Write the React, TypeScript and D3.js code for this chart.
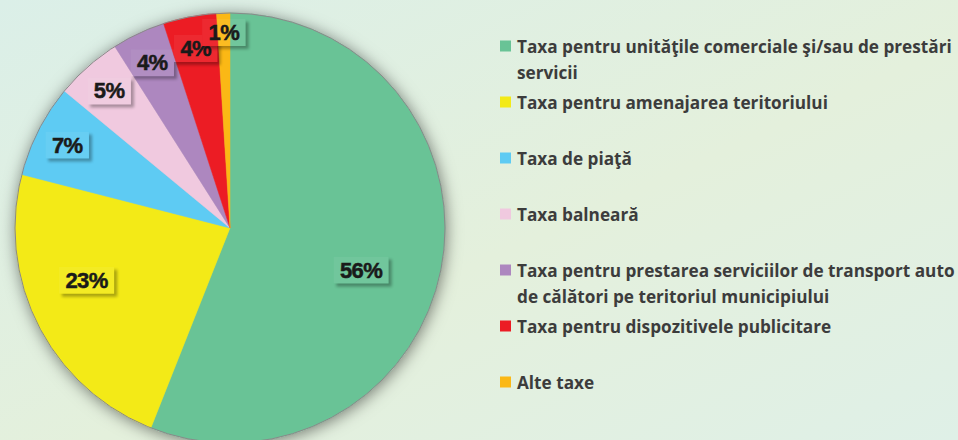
import React, { useRef, useEffect } from "react";
import * as d3 from "d3";

const categories = [
  "Taxa pentru unităţile comerciale şi/sau de prestări servicii",
  "Taxa pentru amenajarea teritoriului",
  "Taxa de piaţă",
  "Taxa balneară",
  "Taxa pentru prestarea serviciilor de transport auto de călători pe teritoriul municipiului",
  "Taxa pentru dispozitivele publicitare",
  "Alte taxe",
];

// legend lines, wrapped as in the picture
const legendLines = [
  ["Taxa pentru unităţile comerciale şi/sau de prestări", "servicii"],
  ["Taxa pentru amenajarea teritoriului"],
  ["Taxa de piaţă"],
  ["Taxa balneară"],
  ["Taxa pentru prestarea serviciilor de transport auto", "de călători pe teritoriul municipiului"],
  ["Taxa pentru dispozitivele publicitare"],
  ["Alte taxe"],
];

const shares = [56, 23, 7, 5, 4, 4, 1];

const colors = ["#69c396", "#f3ea17", "#5ecbf3", "#f0c9df", "#ad87bf", "#ec1c24", "#fbb815"];

const W = 958;
const H = 440;

const App = () => {
  const svgRef = useRef<SVGSVGElement>(null);

  useEffect(() => {
    const svg = d3.select(svgRef.current).attr("width", W).attr("height", H);
    svg.selectAll("*").remove();

    const defs = svg.append("defs");
    const bg = defs
      .append("linearGradient")
      .attr("id", "bg")
      .attr("x1", "0")
      .attr("y1", "0")
      .attr("x2", "1")
      .attr("y2", "1");
    bg.append("stop").attr("offset", "0%").attr("stop-color", "#dbefe8");
    bg.append("stop").attr("offset", "55%").attr("stop-color", "#e4f0dc");
    bg.append("stop").attr("offset", "100%").attr("stop-color", "#dff0e7");

    const pieShadow = defs.append("filter").attr("id", "pieShadow")
      .attr("x", "-20%").attr("y", "-20%").attr("width", "140%").attr("height", "140%");
    pieShadow.append("feDropShadow")
      .attr("dx", 1).attr("dy", 2).attr("stdDeviation", 8)
      .attr("flood-color", "#000").attr("flood-opacity", 0.5);

    const boxBlur = defs.append("filter").attr("id", "boxBlur")
      .attr("x", "-30%").attr("y", "-30%").attr("width", "160%").attr("height", "160%");
    boxBlur.append("feGaussianBlur").attr("stdDeviation", 1.6);

    svg.append("rect").attr("width", W).attr("height", H).attr("fill", "url(#bg)");

    const cx = 230;
    const cy = 228;
    const r = 215;

    const pie = d3.pie<number>().sort(null).value((d) => d)(shares);
    const arc = d3.arc<d3.PieArcDatum<number>>().innerRadius(0).outerRadius(r);

    const g = svg.append("g").attr("transform", `translate(${cx},${cy})`);

    const drawSlices = (parent: any) => {
      parent
        .selectAll("path")
        .data(pie)
        .join("path")
        .attr("d", arc)
        .attr("fill", (d: any, i: number) => colors[i])
        .attr("stroke", (d: any, i: number) => colors[i])
        .attr("stroke-width", 0.5);
    };

    g.append("circle").attr("r", r).attr("fill", "#bbb").attr("filter", "url(#pieShadow)");
    drawSlices(g.append("g"));
    g.append("circle").attr("r", r).attr("fill", "none").attr("stroke", "#8a8a8a").attr("stroke-width", 1);

    // data labels: box shows the pie beneath, with a soft shadow
    const labelFont = "'Liberation Sans', Arial, sans-serif";
    const labels = g.append("g");
    pie.forEach((d, i) => {
      const share = shares[i];
      const k = share > 50 ? 0.64 : share > 20 ? 0.71 : share > 1 ? 0.85 : 0.91;
      // big slices: label sits a bit further round, clockwise
      const shift = share > 20 ? (7 * Math.PI) / 180 : 0;
      const mid = (d.startAngle + d.endAngle) / 2 + shift;
      const lx = Math.sin(mid) * r * k;
      const ly = -Math.cos(mid) * r * k;
      const txt = `${share}%`;

      const boxG = labels.append("g");
      const t = labels.append("text")
        .attr("x", lx).attr("y", ly)
        .attr("text-anchor", "middle")
        .attr("dominant-baseline", "central")
        .attr("font-family", labelFont)
        .attr("font-weight", "bold")
        .attr("font-size", 22)
        .attr("letter-spacing", -0.6)
        .attr("fill", "#1a1a1a")
        .attr("stroke", "#1a1a1a")
        .attr("stroke-width", 0.5)
        .text(txt);
      const tw = (t.node() as SVGTextElement).getComputedTextLength();
      const bw = tw + 13;
      const bh = 27;
      const bx = lx - bw / 2;
      const by = ly - bh / 2;

      boxG.append("rect")
        .attr("x", bx + 3).attr("y", by + 3)
        .attr("width", bw).attr("height", bh)
        .attr("fill", "#000").attr("opacity", 0.3)
        .attr("filter", "url(#boxBlur)");

      const clipId = `box${i}`;
      defs.append("clipPath").attr("id", clipId)
        .append("rect").attr("x", bx).attr("y", by).attr("width", bw).attr("height", bh);
      const inner = boxG.append("g").attr("clip-path", `url(#${clipId})`);
      drawSlices(inner);
      inner.append("rect").attr("x", bx).attr("y", by).attr("width", bw).attr("height", bh)
        .attr("fill", "#fff").attr("opacity", 0.06);
    });

    // legend
    const legend = svg.append("g").attr("transform", "translate(500,46)");
    const itemStep = 56;
    const lineStep = 26;
    legendLines.forEach((lines, i) => {
      const item = legend.append("g").attr("transform", `translate(0,${i * itemStep})`);
      item.append("rect")
        .attr("x", 0).attr("y", -5.5)
        .attr("width", 11).attr("height", 11)
        .attr("fill", colors[i]);
      lines.forEach((line, j) => {
        item.append("text")
          .attr("x", 17)
          .attr("y", j * lineStep)
          .attr("dominant-baseline", "central")
          .attr("font-family", "'Open Sans', Lato, sans-serif")
          .attr("font-weight", "bold")
          .attr("font-size", 17.2)
          .attr("fill", "#3c3c3c")
          .text(line);
      });
      item.append("title").text(categories[i]);
    });
  }, []);

  return (
    <div style={{ position: "absolute", left: 0, top: 0 }}>
      <svg ref={svgRef} style={{ display: "block" }}></svg>
    </div>
  );
};

export default App;
